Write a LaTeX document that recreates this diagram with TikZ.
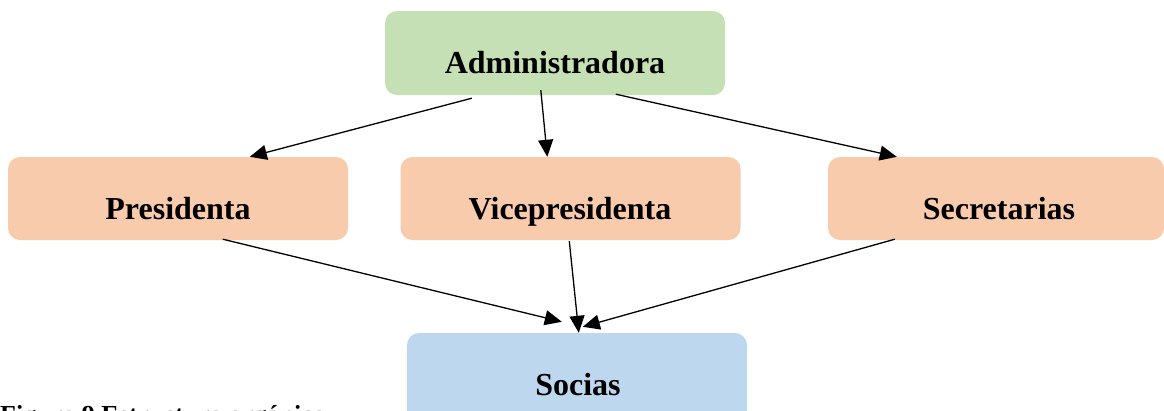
\documentclass[tikz,border=0pt]{standalone}
\usepackage{fontspec}
\setmainfont{Liberation Serif}
\usetikzlibrary{arrows.meta,calc}
\definecolor{boxgreen}{HTML}{C5E0B4}
\definecolor{boxorange}{HTML}{F8CBAD}
\definecolor{boxblue}{HTML}{BDD7EE}
\tikzset{
  rbox/.style={rounded corners=12pt, draw=none, inner sep=0pt, minimum width=340pt, minimum height=84pt},
  lbl/.style={anchor=base, inner sep=0pt, font=\fontsize{32}{36}\selectfont\bfseries},
  conn/.style={line width=1.3pt, -{Triangle[length=17pt,width=15pt]}}
}
\begin{document}
\begin{tikzpicture}[x=1pt,y=-1pt]
\useasboundingbox (0,0) rectangle (1164,410);
\clip (0,0) rectangle (1164,410);
% boxes
\node[rbox, fill=boxgreen] (admin) at (555,53) {};
\node[rbox, fill=boxorange, minimum height=83pt] (pres) at (178,198.5) {};
\node[rbox, fill=boxorange, minimum height=83pt] (vice) at (570.5,198.5) {};
\node[rbox, fill=boxorange, minimum height=83pt, minimum width=336pt] (sec) at (996,198.5) {};
\node[rbox, fill=boxblue, minimum height=100pt] (soc) at (577,383) {};
% labels
\node[lbl] (tadmin) at (555,73) {Administradora};
\node[lbl] (tpres) at (178,219) {Presidenta};
\node[lbl] (tvice) at (570,219) {Vicepresidenta};
\node[lbl] (tsec) at (999,219) {Secretarias};
\node[lbl] (tsoc) at (578,395) {Socias};
% caption
\node[anchor=base west, inner sep=0pt, font=\fontsize{26}{30}\selectfont\bfseries] (cap) at (0,423) {Figura 9 Estructura orgánica};
% connector ends
\coordinate (a1) at ($(admin.south west)+(87,3)$);
\coordinate (a2) at ($(admin.south west)+(156,-5)$);
\coordinate (a3) at ($(admin.south west)+(231,-1)$);
\coordinate (p0) at ($(pres.north west)+(242,0)$);
\coordinate (v0) at ($(vice.north west)+(147,0)$);
\coordinate (s0) at ($(sec.north west)+(69,0)$);
\coordinate (p1) at ($(pres.south west)+(215,-1)$);
\coordinate (v1) at ($(vice.south west)+(169,1)$);
\coordinate (s1) at ($(sec.south west)+(67,-1)$);
\coordinate (q1) at ($(soc.north west)+(155,-11)$);
\coordinate (q2) at ($(soc.north west)+(172,0)$);
\coordinate (q3) at ($(soc.north west)+(176,-6)$);
% connectors
\draw[conn] (a1) -- (p0);
\draw[conn] (a2) -- (v0);
\draw[conn] (a3) -- (s0);
\draw[conn] (p1) -- (q1);
\draw[conn] (v1) -- (q2);
\draw[conn] (s1) -- (q3);
\end{tikzpicture}
\end{document}
